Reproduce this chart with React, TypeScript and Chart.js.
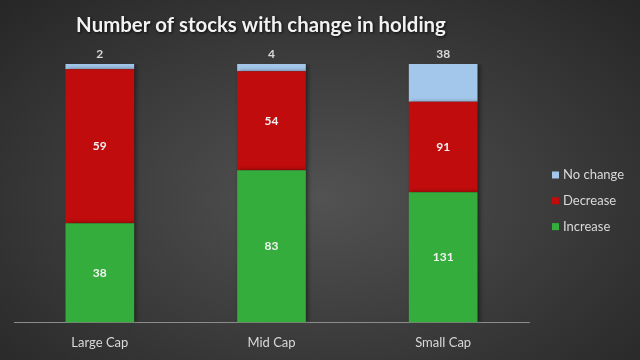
import React, { useEffect, useRef } from "react";
import { Chart, registerables } from "chart.js";

Chart.register(...registerables);

const categories = ["Large Cap", "Mid Cap", "Small Cap"];
const increase = [38, 83, 131];
const decrease = [59, 54, 91];
const noChange = [2, 4, 38];
const seriesNames = ["Increase", "Decrease", "No change"];
const seriesColors = ["#34AD3C", "#C00C0C", "#A3C7EA"];
const title = "Number of stocks with change in holding";

const FONT = "Lato, 'Open Sans', sans-serif";

export default function App() {
  const ref = useRef<HTMLCanvasElement | null>(null);

  useEffect(() => {
    document.body.style.margin = "0";
    const counts = [increase, decrease, noChange];
    const totals = categories.map((_, i) => increase[i] + decrease[i] + noChange[i]);
    const pct = counts.map((arr) => arr.map((v, i) => (v / totals[i]) * 100));

    const shadowPlugin = {
      id: "barShadow",
      beforeDatasetsDraw(chart: any) {
        const ctx = chart.ctx;
        ctx.save();
        ctx.shadowColor = "rgba(0,0,0,0.45)";
        ctx.shadowBlur = 4;
        ctx.shadowOffsetX = 2;
        ctx.shadowOffsetY = 0;
      },
      afterDatasetsDraw(chart: any) {
        chart.ctx.restore();
      },
    };

    const labelPlugin = {
      id: "labels",
      afterDatasetsDraw(chart: any) {
        const ctx = chart.ctx;
        ctx.save();
        ctx.font = `bold 12px ${FONT}`;
        ctx.textAlign = "center";
        ctx.textBaseline = "middle";
        chart.data.datasets.forEach((ds: any, di: number) => {
          const meta = chart.getDatasetMeta(di);
          meta.data.forEach((bar: any, i: number) => {
            const v = counts[di][i];
            if (di === 2) {
              ctx.fillStyle = "#D9D9D9";
              ctx.fillText(String(v), bar.x, bar.y - 10);
            } else {
              ctx.fillStyle = "#F2F2F2";
              ctx.fillText(String(v), bar.x, (bar.y + bar.base) / 2);
            }
          });
        });
        ctx.restore();
      },
    };

    const titleLegendPlugin = {
      id: "titleLegend",
      afterDraw(chart: any) {
        const ctx = chart.ctx;
        ctx.save();
        ctx.font = `bold 20.4px ${FONT}`;
        ctx.textAlign = "center";
        ctx.textBaseline = "middle";
        ctx.shadowColor = "rgba(0,0,0,0.8)";
        ctx.shadowBlur = 3;
        ctx.shadowOffsetX = 1;
        ctx.shadowOffsetY = 1;
        ctx.fillStyle = "#F2F2F2";
        ctx.fillText(title, 261, 25);
        ctx.restore();

        ctx.save();
        ctx.font = `13px ${FONT}`;
        ctx.textAlign = "left";
        ctx.textBaseline = "middle";
        const order = [2, 1, 0];
        order.forEach((di, k) => {
          const y = 175 + k * 25.8;
          ctx.fillStyle = seriesColors[di];
          ctx.fillRect(552, y - 3.5, 7, 7);
          ctx.fillStyle = "#D9D9D9";
          ctx.fillText(seriesNames[di], 563, y);
        });
        ctx.restore();
      },
    };

    const chart = new Chart(ref.current as HTMLCanvasElement, {
      type: "bar",
      data: {
        labels: categories,
        datasets: seriesNames.map((name, di) => ({
          label: name,
          data: pct[di],
          backgroundColor: seriesColors[di],
          borderWidth: 0,
          categoryPercentage: 1,
          barPercentage: 0.4,
        })),
      },
      options: {
        animation: false,
        responsive: false,
        maintainAspectRatio: false,
        layout: { padding: { left: 14, right: 111, top: 64, bottom: -4 } },
        plugins: {
          legend: { display: false },
          title: { display: false },
          tooltip: { enabled: false },
        },
        scales: {
          x: {
            stacked: true,
            grid: { display: false, drawTicks: false },
            border: { display: true, color: "#8C8C8C", width: 1 },
            ticks: {
              color: "#D9D9D9",
              font: { family: FONT, size: 13 },
              padding: 13,
            },
          },
          y: {
            stacked: true,
            display: false,
            min: 0,
            max: 100,
          },
        },
      },
      plugins: [shadowPlugin, labelPlugin, titleLegendPlugin],
    });
    return () => chart.destroy();
  }, []);

  return (
    <div
      style={{
        width: 640,
        height: 360,
        background:
          "radial-gradient(ellipse farthest-corner at 50% 55%, #525252 0%, #3c3c3c 50%, #262626 100%)",
      }}
    >
      <canvas ref={ref} width={640} height={360} style={{ display: "block" }} />
    </div>
  );
}
